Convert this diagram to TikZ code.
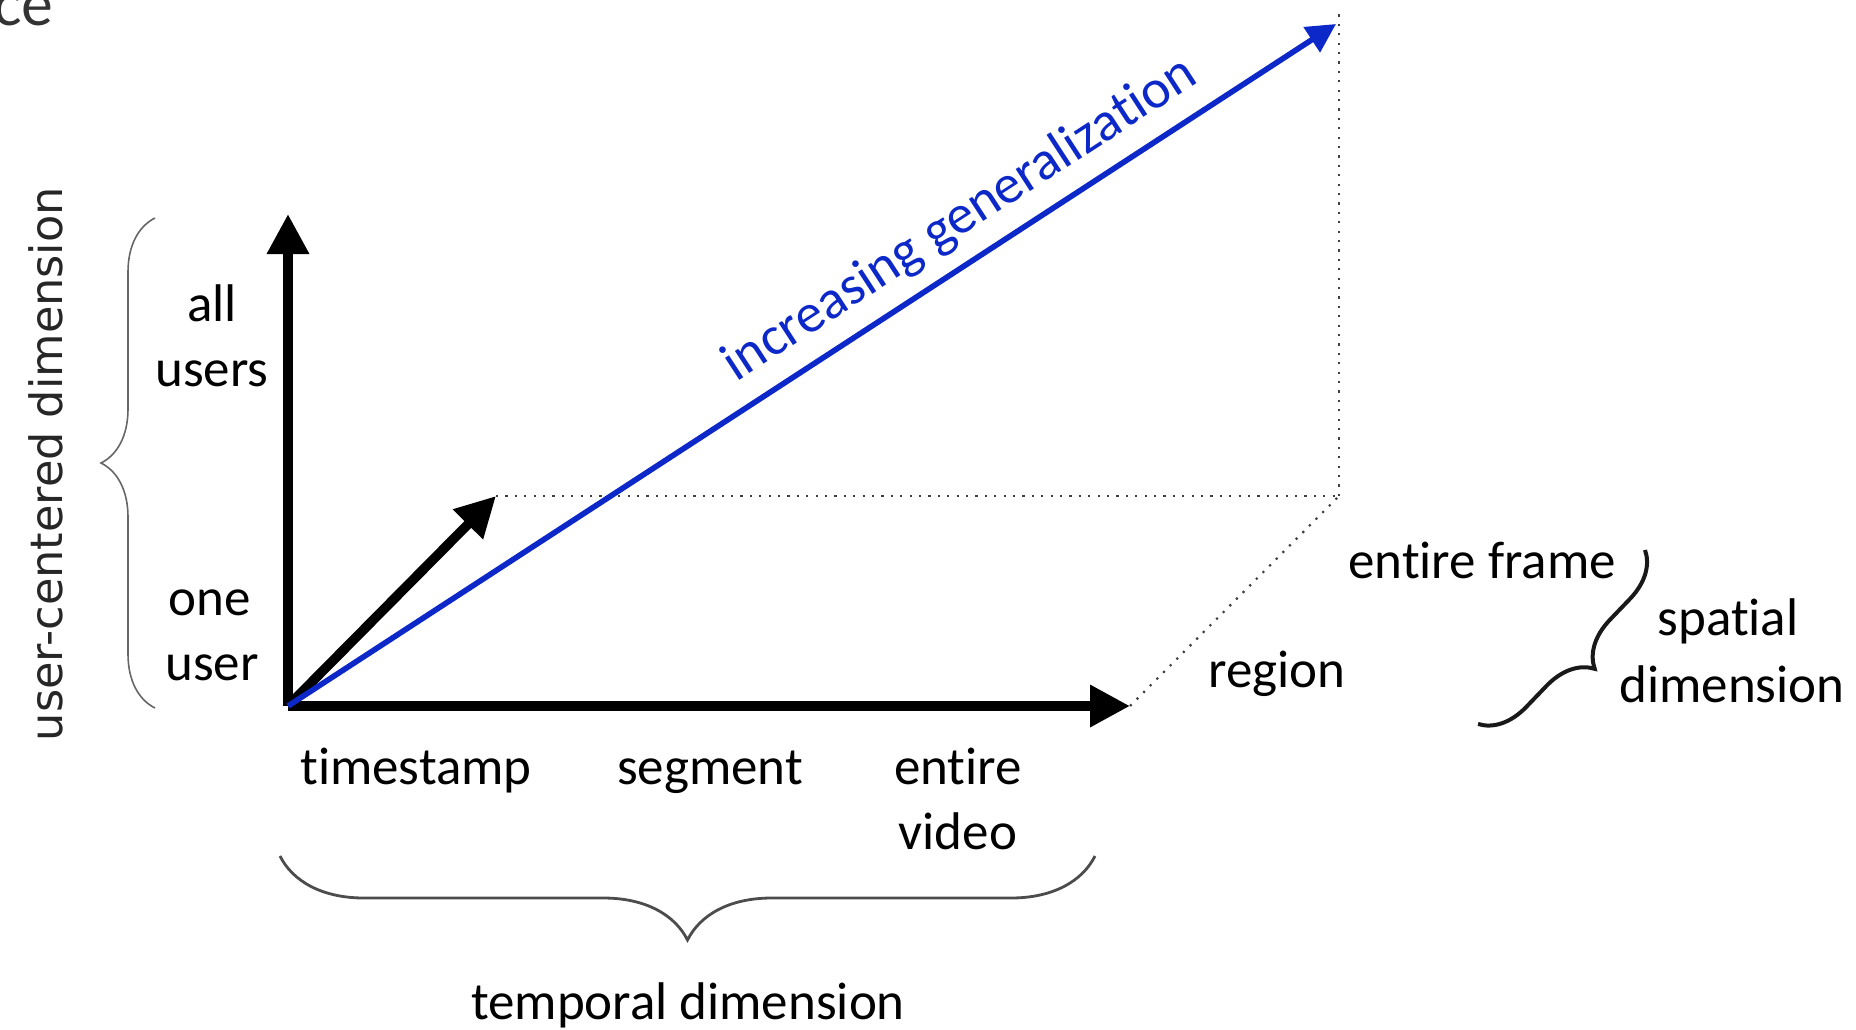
\documentclass[tikz,border=0pt]{standalone}
\usepackage{fontspec}
\setmainfont{Carlito}[Ligatures={NoCommon,NoContextual,NoRare},Contextuals=NoAlternate]
\newfontfamily\rotfont{DejaVu Sans}
\newfontfamily\cutfont{Lato}
\usetikzlibrary{arrows.meta,decorations.pathreplacing}
\definecolor{genblue}{RGB}{12,40,200}
\tikzset{every picture/.style={line width=0.75pt}}
\tikzset{
  txt/.style={inner sep=0pt,anchor=base,font=\fontsize{26.5}{32}\selectfont},
  axisline/.style={line width=4.8pt,-{Triangle[length=20pt,width=20pt]}},
  genline/.style={line width=2.8pt,genblue,-{Triangle[length=14.5pt,width=14.5pt]}},
  dotline/.style={line width=1.1pt,dash pattern=on 1.1pt off 3.6pt,black!75},
  bracethin/.style={decorate,decoration={brace,amplitude=27pt},line width=0.8pt,black!60},
  bracemid/.style={decorate,decoration={brace,amplitude=42pt},line width=1.4pt,black!70},
  bracethick/.style={decorate,decoration={brace,amplitude=23pt},line width=2pt,black!90}
}

\begin{document}
\begin{tikzpicture}[x=0.5pt,y=0.5pt,yscale=-1,xscale=1]
\useasboundingbox (0,0) rectangle (1856,1029);

% corners of the box
\coordinate (O) at (288,706);
\coordinate (ytip) at (288,214);
\coordinate (xtip) at (1130,706);
\coordinate (ztip) at (496,496);
\coordinate (corner) at (1339,496);
\coordinate (top) at (1339,14);
\coordinate (gtip) at (1336,24);

% Dotted Lines
\draw[dotline] (ztip) -- (corner);
\draw[dotline] (xtip) -- (corner);
\draw[dotline] (corner) -- (top);

% Axes
\draw[axisline] (O) -- (ytip);
\draw[axisline] (O) -- (xtip);
\draw[axisline] (O) -- (ztip);
\draw[genline] (O) -- (gtip);

% Braces
\draw[bracethin] (155,708) -- (155,218);
\draw[bracemid] (1095,856) -- (280,856);
\draw[bracethick] (1645,550) -- (1478,724);

% Text Node
\node[anchor=base west,inner sep=0pt,font=\cutfont\fontsize{30}{36}\selectfont,black!80] (cut) at (-7,25) {ce};
% Text Node
\node[inner sep=0pt,anchor=base,rotate=90,font=\rotfont\fontsize{22.3}{27}\selectfont,black!85] (userdim) at (62,464) {user-centered dimension};
% Text Node
\node[txt] (all) at (212,321) {all};
\node[txt] (users) at (212,386) {users};
\node[txt] (one) at (210,615) {one};
\node[txt] (user) at (212,680) {user};
% Text Node
\node[txt] (timestamp) at (416,784) {timestamp};
\node[txt] (segment) at (710,784) {segment};
\node[txt] (entire) at (958,784) {entire};
\node[txt] (video) at (958,849) {video};
\node[txt] (temporal) at (688,1019) {temporal dimension};
% Text Node
\node[txt] (region) at (1277,687) {region};
\node[txt] (frame) at (1482,578) {entire frame};
\node[txt] (spatial) at (1728,635) {spatial};
\node[txt] (spdim) at (1732,702) {dimension};
% Text Node
\node[txt,rotate=33,genblue,font=\fontsize{27.5}{33}\selectfont] (gen) at (968,232) {increasing generalization};

\end{tikzpicture}
\end{document}
